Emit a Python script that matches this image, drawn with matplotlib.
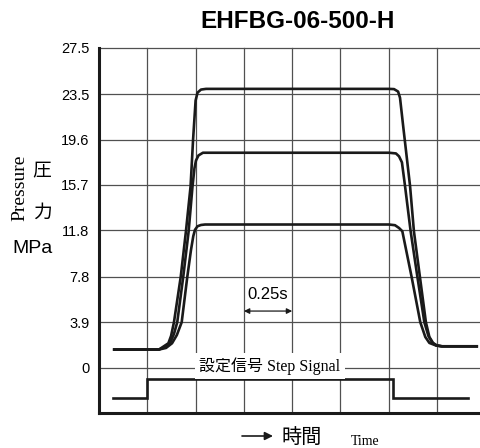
import matplotlib
matplotlib.use("Agg")
import matplotlib.pyplot as plt

plt.rcParams['font.family'] = ['Liberation Sans', 'Noto Sans CJK JP', 'DejaVu Sans']

# ---- data ----
title = "EHFBG-06-500-H"
ytick_vals = [0, 3.9, 7.8, 11.8, 15.7, 19.6, 23.5, 27.5]
ytick_labels = ["0", "3.9", "7.8", "11.8", "15.7", "19.6", "23.5", "27.5"]
xgrid_vals = [0.25, 0.5, 0.75, 1.0, 1.25, 1.5, 1.75, 2.0]

t_top = [0.072, 0.310, 0.331, 0.359, 0.373, 0.388, 0.423, 0.450, 0.474, 0.487, 0.500, 0.510, 0.528, 0.554,
         1.501, 1.527, 1.548, 1.558, 1.575, 1.610, 1.630, 1.661, 1.692, 1.710, 1.729, 1.749, 1.775, 1.962]
p_top = [1.55, 1.55, 1.78, 2.09, 2.72, 3.90, 7.80, 11.72, 15.58, 19.61, 22.96, 23.64, 23.90, 23.96,
         23.96, 23.94, 23.73, 23.20, 20.67, 15.61, 11.72, 7.80, 3.90, 2.63, 2.12, 1.90, 1.83, 1.83]

t_mid = [0.072, 0.310, 0.336, 0.367, 0.388, 0.405, 0.436, 0.464, 0.484, 0.494, 0.502, 0.515, 0.538,
         1.501, 1.537, 1.553, 1.568, 1.584, 1.613, 1.648, 1.684, 1.705, 1.726, 1.746, 1.775, 1.962]
p_mid = [1.55, 1.55, 1.73, 2.09, 2.89, 3.90, 7.80, 11.72, 15.58, 17.13, 17.80, 18.24, 18.47,
         18.47, 18.41, 18.16, 17.64, 15.61, 11.72, 7.80, 3.90, 2.72, 2.12, 1.90, 1.83, 1.83]

t_low = [0.072, 0.310, 0.347, 0.378, 0.403, 0.428, 0.457, 0.476, 0.488, 0.497, 0.510, 0.528, 0.549,
         1.501, 1.532, 1.553, 1.570, 1.618, 1.663, 1.689, 1.710, 1.744, 1.775, 1.962]
p_low = [1.55, 1.55, 1.69, 2.09, 2.80, 3.90, 7.80, 10.10, 11.30, 11.85, 12.15, 12.26, 12.30,
         12.30, 12.24, 12.00, 11.72, 7.80, 3.90, 2.63, 2.12, 1.90, 1.83, 1.83]

t_step = [0.072, 0.25, 0.25, 1.522, 1.522, 1.910]
s_step = [-2.62, -2.62, -0.98, -0.98, -2.62, -2.62]

# ---- figure ----
W, H = 481, 448
fig = plt.figure(figsize=(W / 100, H / 100), dpi=100)
ax = fig.add_axes([99 / W, (H - 413.3) / H, (485.4 - 99) / W, (413.3 - 47.7) / H])
ax.set_xlim(0, 2.0)
ax.set_ylim(-3.93, 27.5)

ax.set_yticks(ytick_vals)
ax.set_yticklabels(ytick_labels, fontsize=10.5)
ax.set_xticks(xgrid_vals)
ax.set_xticklabels([])
ax.tick_params(length=0, pad=7)
ax.grid(True, color='#505050', linewidth=0.9)
for gl in ax.get_xgridlines() + ax.get_ygridlines():
    gl.set_clip_on(False)
ax.set_axisbelow(True)

for s in ['top', 'right']:
    ax.spines[s].set_visible(False)
for s in ['left', 'bottom']:
    ax.spines[s].set_linewidth(2.2)
    ax.spines[s].set_color('#1a1a1a')

lw = 1.9
for tt, pp in [(t_top, p_top), (t_mid, p_mid), (t_low, p_low)]:
    ax.plot(tt, pp, color='#1a1a1a', linewidth=lw, solid_joinstyle='round', solid_capstyle='butt')
ax.plot(t_step, s_step, color='#1a1a1a', linewidth=lw, solid_joinstyle='miter')

# step signal label
ax.text(0.885, 0.15, "設定信号 Step Signal", ha='center', va='center', fontsize=11.5,
        family=['Liberation Serif', 'Noto Sans CJK JP'],
        bbox=dict(facecolor='white', edgecolor='none', pad=3))

# 0.25 s annotation
ax.text(0.875, 6.3, "0.25s", ha='center', va='center', fontsize=12)
ax.annotate("", xy=(0.75, 4.86), xytext=(1.0, 4.86),
            arrowprops=dict(arrowstyle='<|-|>', color='#1a1a1a', lw=0.9,
                            mutation_scale=8, shrinkA=0, shrinkB=0))

# title
fig.text(297.5 / W, 1 - 22 / H, title, ha='center', va='center', fontsize=17.5, fontweight='bold')

# y-axis label pieces
fig.text(20 / W, 1 - 188 / H, "Pressure", rotation=90, ha='center', va='center',
         fontsize=14, family=['Liberation Serif'])
fig.text(42 / W, 1 - 172 / H, "圧", ha='center', va='center', fontsize=13.5)
fig.text(42 / W, 1 - 213.5 / H, "力", ha='center', va='center', fontsize=13.5)
fig.text(32.5 / W, 1 - 248.5 / H, "MPa", ha='center', va='center', fontsize=14)

# time label with arrow
fig.add_artist(matplotlib.patches.FancyArrowPatch((242 / W, 1 - 436 / H), (273 / W, 1 - 436 / H),
               transform=fig.transFigure, arrowstyle='-|>', mutation_scale=12,
               color='#1a1a1a', lw=1.2, shrinkA=0, shrinkB=0))
fig.text(302 / W, 1 - 437 / H, "時間", ha='center', va='center', fontsize=14.5)
fig.text(365 / W, 1 - 441 / H, "Time", ha='center', va='center', fontsize=10,
         family=['Liberation Serif'])

fig.savefig("out.png", dpi=100)
